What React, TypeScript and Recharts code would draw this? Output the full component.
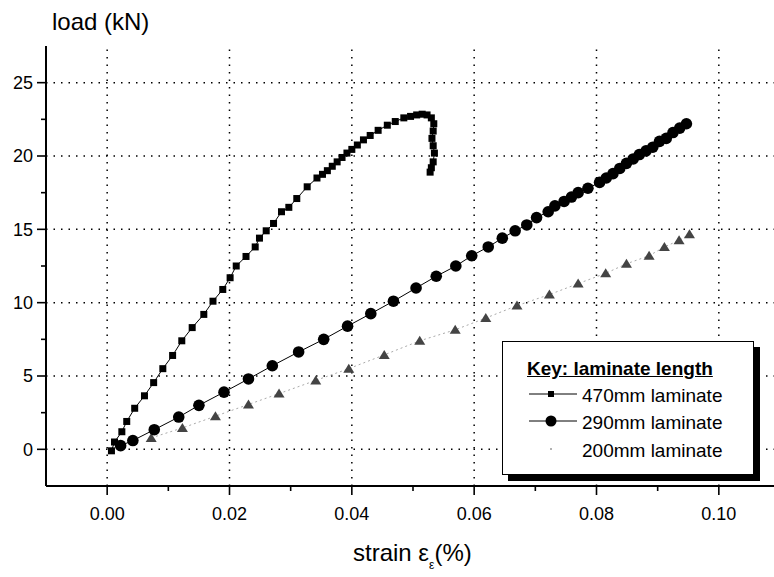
import React from "react";
import {
  ScatterChart,
  Scatter,
  XAxis,
  YAxis,
  ReferenceLine,
} from "recharts";

// 470mm laminate (squares)
const strain470 = [
  0.0007, 0.0012, 0.0024, 0.0032, 0.0045, 0.0061, 0.0076, 0.0091, 0.0107, 0.0122,
  0.0139, 0.0158, 0.0173, 0.0189, 0.0201, 0.0211, 0.0227, 0.0242, 0.0249, 0.026,
  0.0272, 0.0285, 0.0297, 0.031, 0.0327, 0.0343, 0.0352, 0.036, 0.0368, 0.0376,
  0.0384, 0.0392, 0.04, 0.0409, 0.0419, 0.043, 0.0443, 0.0458, 0.0471, 0.0485,
  0.0496, 0.0506, 0.0515, 0.0523, 0.053, 0.0534, 0.0533, 0.0531, 0.0533, 0.0535,
  0.0533, 0.053, 0.0528,
];
const load470 = [
  -0.1, 0.5, 1.2, 1.9, 2.8, 3.65, 4.55, 5.5, 6.4, 7.4,
  8.3, 9.2, 10.1, 10.9, 11.7, 12.5, 13.15, 13.8, 14.4, 14.9,
  15.4, 16.2, 16.5, 17.1, 17.9, 18.5, 18.75, 19.0, 19.3, 19.6,
  19.9, 20.2, 20.45, 20.75, 21.1, 21.4, 21.75, 22.1, 22.35, 22.6,
  22.7, 22.8, 22.85, 22.8, 22.6, 22.2, 21.7, 21.2, 20.7, 20.2,
  19.6, 19.2, 18.9,
];

// 290mm laminate (circles)
const strain290 = [
  0.0022, 0.0042, 0.0077, 0.0117, 0.015, 0.0191, 0.0231, 0.027, 0.0313, 0.0354,
  0.0393, 0.0431, 0.0468, 0.0505, 0.0538, 0.057, 0.0596, 0.0623, 0.0646, 0.0667,
  0.0686, 0.0702, 0.0721, 0.0732, 0.0747, 0.0759, 0.077, 0.0786, 0.0805, 0.0816,
  0.0827, 0.0838, 0.0849, 0.086, 0.087, 0.0881, 0.0892, 0.0903, 0.0914, 0.0925,
  0.0936, 0.0947,
];
const load290 = [
  0.25, 0.6, 1.34, 2.2, 3.0, 3.9, 4.8, 5.7, 6.64, 7.5,
  8.4, 9.25, 10.1, 11.0, 11.8, 12.5, 13.2, 13.8, 14.4, 14.9,
  15.3, 15.8, 16.2, 16.6, 16.9, 17.2, 17.5, 17.8, 18.2, 18.5,
  18.8, 19.15, 19.5, 19.8, 20.1, 20.35, 20.6, 21.0, 21.2, 21.6,
  21.9, 22.2,
];

// 200mm laminate (triangles)
const strain200 = [
  0.0072, 0.0123, 0.0177, 0.0231, 0.0281, 0.0341, 0.0395, 0.0453, 0.0511, 0.0569,
  0.0619, 0.067, 0.0723, 0.077, 0.0815, 0.0849, 0.0886, 0.0911, 0.0935, 0.0952,
];
const load200 = [
  0.78, 1.46, 2.26, 3.06, 3.8, 4.7, 5.5, 6.44, 7.4, 8.15,
  8.95, 9.8, 10.55, 11.3, 12.0, 12.65, 13.2, 13.8, 14.25, 14.66,
];

const xTicks = [0, 0.01, 0.02, 0.03, 0.04, 0.05, 0.06, 0.07, 0.08, 0.09, 0.1];
const yTicks = [0, 2.5, 5, 7.5, 10, 12.5, 15, 17.5, 20, 22.5, 25];
const xGrid = [0, 0.02, 0.04, 0.06, 0.08, 0.1];
const yGrid = [0, 5, 10, 15, 20, 25];

const toPoints = (xs: number[], ys: number[]) => xs.map((x, i) => ({ x, y: ys[i] }));
const data470 = toPoints(strain470, load470);
const data290 = toPoints(strain290, load290);
const data200 = toPoints(strain200, load200);

const FONT = "'Liberation Sans', Arial, sans-serif";
const isMajorX = (v: number) => Math.round(v * 100) % 2 === 0;
const isMajorY = (v: number) => Math.round(v * 10) % 50 === 0;

const BottomTick = ({ x, y, payload }: any) => {
  const major = isMajorX(payload.value);
  return (
    <g>
      <line x1={x} y1={y} x2={x} y2={y + (major ? 9 : 5)} stroke="#000" strokeWidth={1.6} />
      {major && (
        <text x={x} y={y + 34} textAnchor="middle" fontSize={18} fontFamily={FONT} fill="#000">
          {payload.value.toFixed(2)}
        </text>
      )}
    </g>
  );
};

const TopTick = ({ x, y, payload }: any) => {
  const major = isMajorX(payload.value);
  return <line x1={x} y1={y} x2={x} y2={y + (major ? 9 : 5)} stroke="#000" strokeWidth={1.6} />;
};

const LeftTick = ({ x, y, payload }: any) => {
  const major = isMajorY(payload.value);
  return (
    <g>
      <line x1={x} y1={y} x2={x - (major ? 9 : 5)} y2={y} stroke="#000" strokeWidth={1.6} />
      {major && (
        <text x={x - 13} y={y} dy="0.35em" textAnchor="end" fontSize={18} fontFamily={FONT} fill="#000">
          {payload.value}
        </text>
      )}
    </g>
  );
};

const RightTick = ({ x, y, payload }: any) => {
  const major = isMajorY(payload.value);
  return <line x1={x} y1={y} x2={x - (major ? 9 : 5)} y2={y} stroke="#000" strokeWidth={1.6} />;
};

const Square = (p: any) => <rect x={p.cx - 3.5} y={p.cy - 3.5} width={7} height={7} fill="#000" />;
const Dot = (p: any) => <circle cx={p.cx} cy={p.cy} r={5.8} fill="#000" />;
const Triangle = (p: any) => (
  <path d={`M${p.cx},${p.cy - 5} L${p.cx + 5.5},${p.cy + 4} L${p.cx - 5.5},${p.cy + 4} Z`} fill="#444" />
);

function Key() {
  const row = (top: number, label: string, marker: React.ReactNode, line: React.ReactNode) => (
    <>
      <svg style={{ position: "absolute", left: 24, top: top - 8, width: 52, height: 16 }}>
        {line}
        {marker}
      </svg>
      <div style={{ position: "absolute", left: 79, top: top - 8, fontSize: 19, lineHeight: "19px" }}>{label}</div>
    </>
  );
  return (
    <div
      style={{
        position: "absolute",
        left: 502,
        top: 341,
        width: 250,
        height: 132,
        border: "1px solid #000",
        background: "#fff",
        boxShadow: "6px 6px 0 #000",
        fontFamily: FONT,
        color: "#000",
      }}
    >
      <div
        style={{
          position: "absolute",
          left: 24,
          top: 17,
          fontSize: 19,
          lineHeight: "19px",
          fontWeight: "bold",
          textDecoration: "underline",
        }}
      >
        Key: laminate length
      </div>
      {row(52, "470mm laminate",
        <rect x={21} y={5} width={6} height={6} fill="#000" />,
        <line x1={2} y1={8} x2={50} y2={8} stroke="#000" strokeWidth={1} />)}
      {row(79, "290mm laminate",
        <circle cx={24} cy={8} r={5.5} fill="#000" />,
        <line x1={2} y1={8} x2={50} y2={8} stroke="#000" strokeWidth={1} />)}
      {row(107, "200mm laminate",
        <circle cx={24} cy={8} r={1} fill="#999" />,
        null)}
    </div>
  );
}

export default function App() {
  return (
    <div
      style={{
        position: "absolute",
        left: 0,
        top: 0,
        width: 774,
        height: 577,
        overflow: "hidden",
        background: "#fff",
        fontFamily: FONT,
      }}
    >
      <ScatterChart width={780} height={577} margin={{ top: 46, right: 0, bottom: 0, left: 0 }}>
        <XAxis
          type="number"
          dataKey="x"
          domain={[-0.01, 0.11]}
          ticks={xTicks}
          interval={0}
          allowDataOverflow
          height={91}
          tickSize={0}
          tickMargin={0}
          tickLine={false}
          axisLine={{ stroke: "#000", strokeWidth: 2 }}
          tick={<BottomTick />}
        />
        <XAxis
          xAxisId="top"
          orientation="top"
          type="number"
          dataKey="x"
          domain={[-0.01, 0.11]}
          ticks={xTicks}
          interval={0}
          allowDataOverflow
          height={0}
          tickSize={0}
          tickMargin={0}
          tickLine={false}
          axisLine={{ stroke: "#000", strokeWidth: 2 }}
          tick={<TopTick />}
        />
        <YAxis
          type="number"
          dataKey="y"
          domain={[-2.5, 27.5]}
          ticks={yTicks}
          interval={0}
          allowDataOverflow
          width={46}
          tickSize={0}
          tickMargin={0}
          tickLine={false}
          axisLine={{ stroke: "#000", strokeWidth: 2 }}
          tick={<LeftTick />}
        />
        <YAxis
          yAxisId="right"
          orientation="right"
          type="number"
          dataKey="y"
          domain={[-2.5, 27.5]}
          ticks={yTicks}
          interval={0}
          allowDataOverflow
          width={0}
          tickSize={0}
          tickMargin={0}
          tickLine={false}
          axisLine={{ stroke: "#000", strokeWidth: 2 }}
          tick={<RightTick />}
        />
        {xGrid.map((v) => (
          <ReferenceLine key={"gx" + v} x={v} stroke="#000" strokeWidth={1.5} strokeDasharray="1.5 6" />
        ))}
        {yGrid.map((v) => (
          <ReferenceLine key={"gy" + v} y={v} stroke="#000" strokeWidth={1.5} strokeDasharray="1.5 6" />
        ))}
        <Scatter
          data={data200}
          line={{ stroke: "#aaa", strokeWidth: 1, strokeDasharray: "2 3" }}
          shape={Triangle}
          isAnimationActive={false}
        />
        <Scatter
          data={data290}
          line={{ stroke: "#000", strokeWidth: 1 }}
          shape={Dot}
          isAnimationActive={false}
        />
        <Scatter
          data={data470}
          line={{ stroke: "#000", strokeWidth: 1 }}
          shape={Square}
          isAnimationActive={false}
        />
      </ScatterChart>
      <div style={{ position: "absolute", left: 52, top: 10, fontSize: 24, lineHeight: "24px", color: "#000" }}>
        load (kN)
      </div>
      <div style={{ position: "absolute", left: 353, top: 541, fontSize: 24, lineHeight: "24px", color: "#000", whiteSpace: "nowrap" }}>
        strain ε
        <span style={{ fontSize: 12, position: "relative", top: 8 }}>ε</span>
        (%)
      </div>
      <Key />
    </div>
  );
}
